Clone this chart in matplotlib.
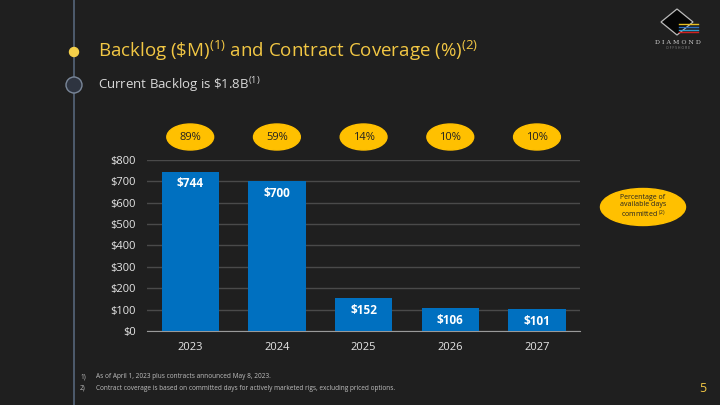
import matplotlib
matplotlib.use("Agg")
import matplotlib.pyplot as plt
from matplotlib.patches import Ellipse, Polygon
from matplotlib.lines import Line2D
import matplotlib.transforms as mtransforms

years = ['2023', '2024', '2025', '2026', '2027']
backlog = [744, 700, 152, 106, 101]
coverage = ['89%', '59%', '14%', '10%', '10%']
yticks = [0, 100, 200, 300, 400, 500, 600, 700, 800]

bg = '#1f1f1f'
yellow = '#FFC000'
title_col = '#F2C744'

plt.rcParams['font.family'] = ['Open Sans', 'DejaVu Sans']
plt.rcParams['mathtext.default'] = 'regular'

W, H = 720, 405


def fx(px):
    return px / W


def fy(py):
    return 1 - py / H


fig = plt.figure(figsize=(7.2, 4.05), dpi=100)
fig.patch.set_facecolor(bg)

ax = fig.add_axes([0.204, 0.183, 0.602, 0.422])
ax.set_facecolor(bg)
x = list(range(len(years)))
ax.bar(x, backlog, width=0.66, color='#0070C0', zorder=3)
for xi, v in zip(x, backlog):
    ax.annotate(f'${v}', (xi, v), xytext=(0, -4), textcoords='offset points',
                ha='center', va='top', color='white', fontsize=8.5, fontweight='bold')

ax.set_xlim(-0.5, 4.5)
ax.set_ylim(0, 800)
ax.set_yticks(yticks)
ax.set_yticklabels([f'${t}' for t in yticks])
ax.set_xticks(x)
ax.set_xticklabels(years)
ax.grid(axis='y', color='#4a4a4a', linewidth=1, zorder=0)
for s in ['top', 'right', 'left']:
    ax.spines[s].set_visible(False)
ax.spines['bottom'].set_color('#9a9a9a')
ax.tick_params(axis='both', length=0, colors='#e6e6e6', labelsize=8)
ax.tick_params(axis='y', pad=8)
ax.tick_params(axis='x', pad=8)

# coverage ellipses
tr = mtransforms.blended_transform_factory(ax.transData, fig.transFigure)
ey = fy(137)
for xi, c in zip(x, coverage):
    ax.add_patch(Ellipse((xi, ey), 0.54, 26 / H, transform=tr, color=yellow,
                         clip_on=False, zorder=5))
    ax.text(xi, ey, c, transform=tr, ha='center', va='center', fontsize=8,
            color='#222222', zorder=6)

# legend ellipse
fig.patches.append(Ellipse((fx(643), fy(207)), 85 / W, 37 / H,
                           transform=fig.transFigure, color=yellow, zorder=5))
fig.text(fx(643), fy(207), 'Percentage of\navailable days\ncommitted $^{(2)}$',
         ha='center', va='center', fontsize=5, color='#222222', linespacing=1.1, zorder=6)

# left timeline
fig.add_artist(Line2D([fx(74), fx(74)], [0, 1], color='#56657a', linewidth=1.2))
fig.patches.append(Ellipse((fx(74), fy(52)), 9 / W, 9 / H, transform=fig.transFigure,
                           color='#F5D04A', zorder=3))
fig.patches.append(Ellipse((fx(74), fy(85)), 16 / W, 16 / H,
                           transform=fig.transFigure, facecolor='#2e3440',
                           edgecolor='#7a8799', linewidth=1, zorder=3))

fig.text(fx(98), fy(51), r'Backlog (\$M)$^{(1)}$ and Contract Coverage (%)$^{(2)}$',
         color=title_col, fontsize=13.5, va='center', ha='left')
fig.text(fx(98), fy(85), r'Current Backlog is \$1.8B$^{(1)}$',
         color='#d9d9d9', fontsize=9.5, va='center', ha='left')

# footnotes
fn = '#bfbfbf'
fig.text(fx(80), fy(377), '1)', color=fn, fontsize=4.7, va='center')
fig.text(fx(96), fy(377), 'As of April 1, 2023 plus contracts announced May 8, 2023.',
         color=fn, fontsize=4.7, va='center')
fig.text(fx(80), fy(388), '2)', color=fn, fontsize=4.7, va='center')
fig.text(fx(96), fy(388),
         'Contract coverage is based on committed days for actively marketed rigs, excluding priced options.',
         color=fn, fontsize=4.7, va='center')
fig.text(fx(703), fy(388), '5', color=title_col, fontsize=9, va='center', ha='center')

# logo
cx, cy = 677, 22
pts = [(cx - 16, cy), (cx, cy - 13), (cx + 16, cy), (cx, cy + 13)]
fig.patches.append(Polygon([(fx(px), fy(py)) for px, py in pts], closed=True,
                           transform=fig.transFigure, facecolor='#050505',
                           edgecolor='#bbbbbb', linewidth=0.9, zorder=3))
for dy, col in zip([24, 27, 30, 32], ['#e8c020', '#2c6fc0', '#2a9fd0', '#d02020']):
    fig.add_artist(Line2D([fx(679), fx(698)], [fy(dy), fy(dy)],
                          color=col, linewidth=1.0, zorder=4))
fig.text(fx(678), fy(43), 'D I A M O N D', color='#cfcfcf', fontsize=4.5,
         ha='center', va='center', family='DejaVu Serif')
fig.text(fx(678), fy(48), 'O F F S H O R E', color='#8a8a8a', fontsize=2.5,
         ha='center', va='center')

fig.savefig('out.png', dpi=100, facecolor=bg)
